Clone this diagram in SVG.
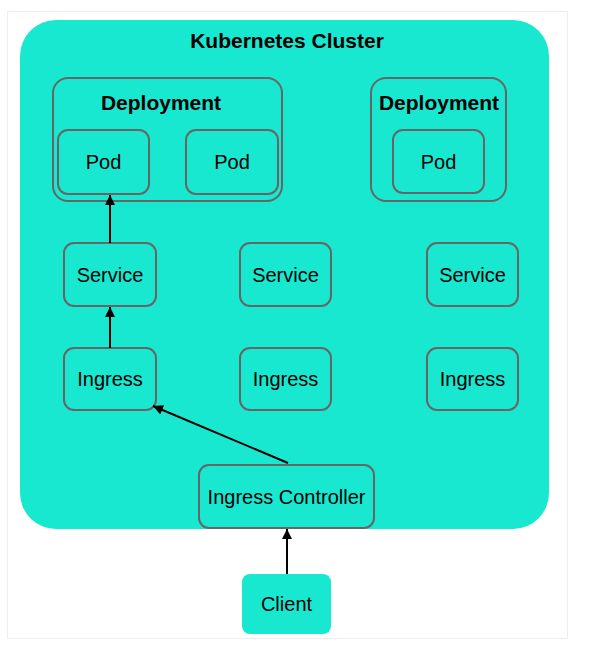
<svg xmlns="http://www.w3.org/2000/svg" width="600" height="647" viewBox="0 0 600 647">
<style>
.n{fill:#19E8D0;stroke:#666;stroke-width:2}
.t{font-family:"Liberation Sans",Arial,sans-serif;font-size:20px;fill:#000;text-anchor:middle}
.b{font-family:"Liberation Sans",Arial,sans-serif;font-size:21px;font-weight:bold;fill:#000;text-anchor:middle}
.c{stroke:#000;stroke-width:2;fill:none;marker-end:url(#ah)}
</style>
<defs>
<marker id="ah" viewBox="0 0 10 10" refX="10" refY="5" markerWidth="5" markerHeight="5" orient="auto" markerUnits="strokeWidth">
<path d="M0,0 L10,5 L0,10 z" fill="#000"/>
</marker>
</defs>
<rect x="0" y="0" width="600" height="647" fill="#fff"/>
<rect x="7.5" y="11.5" width="560" height="627" fill="#fff" stroke="#eee" stroke-width="1"/>
<g id="cluster">
<rect x="20" y="20" width="529" height="509" rx="36" fill="#19E8D0"/>
<text class="b" x="287" y="48">Kubernetes Cluster</text>
</g>
<g id="deployment1">
<rect class="n" x="53" y="78" width="229" height="123" rx="15"/>
<text class="b" x="161" y="110">Deployment</text>
</g>
<g id="pod1"><rect class="n" x="58" y="130" width="91" height="64" rx="10"/><text class="t" x="103.5" y="169">Pod</text></g>
<g id="pod2"><rect class="n" x="186" y="130" width="92" height="64" rx="10"/><text class="t" x="232" y="169">Pod</text></g>
<g id="deployment2">
<rect class="n" x="371" y="78" width="135" height="123" rx="15"/>
<text class="b" x="439" y="110">Deployment</text>
</g>
<g id="pod3"><rect class="n" x="393" y="130" width="91" height="63" rx="10"/><text class="t" x="438.5" y="169">Pod</text></g>
<g id="service1"><rect class="n" x="64" y="243" width="92" height="63" rx="10"/><text class="t" x="110" y="282">Service</text></g>
<g id="service2"><rect class="n" x="240" y="243" width="91" height="63" rx="10"/><text class="t" x="285.5" y="282">Service</text></g>
<g id="service3"><rect class="n" x="427" y="243" width="91" height="63" rx="10"/><text class="t" x="472.5" y="282">Service</text></g>
<g id="ingress1"><rect class="n" x="64" y="348" width="92" height="62" rx="10"/><text class="t" x="110" y="386">Ingress</text></g>
<g id="ingress2"><rect class="n" x="240" y="348" width="91" height="62" rx="10"/><text class="t" x="285.5" y="386">Ingress</text></g>
<g id="ingress3"><rect class="n" x="427" y="348" width="91" height="62" rx="10"/><text class="t" x="472.5" y="386">Ingress</text></g>
<g id="ingressController"><rect class="n" x="199" y="465" width="175" height="63" rx="10"/><text class="t" x="286.5" y="504">Ingress Controller</text></g>
<g id="client"><rect x="242" y="574" width="89" height="60" rx="8" fill="#19E8D0"/><text class="t" x="286.5" y="611">Client</text></g>
<g id="connectors">
<line class="c" x1="110" y1="243" x2="110" y2="195"/>
<line class="c" x1="110" y1="348" x2="110" y2="307"/>
<line class="c" x1="288" y1="463" x2="153" y2="406"/>
<line class="c" x1="287" y1="574" x2="287" y2="529"/>
</g>
</svg>
